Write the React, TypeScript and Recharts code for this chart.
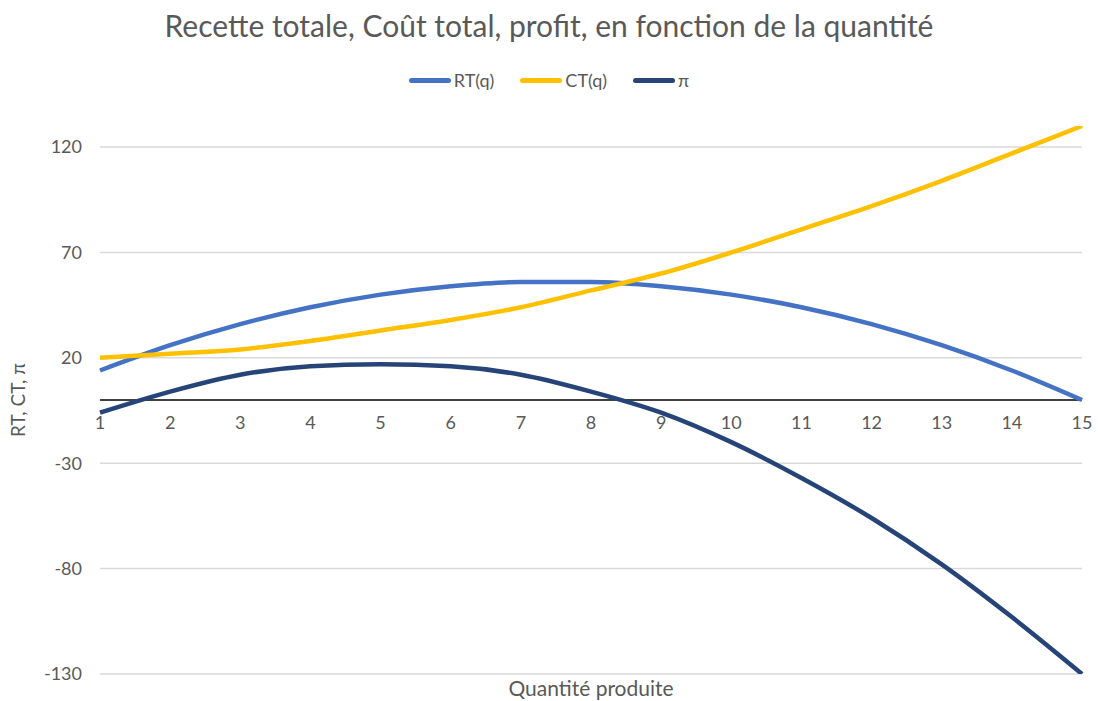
import React from "react";
import {
  LineChart,
  Line,
  XAxis,
  YAxis,
  CartesianGrid,
  ReferenceLine,
} from "recharts";

const quantities = [1, 2, 3, 4, 5, 6, 7, 8, 9, 10, 11, 12, 13, 14, 15];
const recetteTotale = [14, 26, 36, 44, 50, 54, 56, 56, 54, 50, 44, 36, 26, 14, 0];
const coutTotal = [20, 22, 24, 28, 33, 38, 44, 52, 60, 70, 81, 92, 104, 117, 130];
const profit = [-6, 4, 12, 16, 17, 16, 12, 4, -6, -20, -37, -56, -78, -103, -130];
const yTicks = [-130, -80, -30, 20, 70, 120];

const series = [
  { key: "rt", name: "RT(q)", color: "#4472C4" },
  { key: "ct", name: "CT(q)", color: "#FFC000" },
  { key: "pi", name: "π", color: "#264478" },
];

const data = quantities.map((q, i) => ({
  q,
  rt: recetteTotale[i],
  ct: coutTotal[i],
  pi: profit[i],
}));

const CHART_W = 1098;
const CHART_H = 701;
const TOP = 126;
const XAXIS_H = 27;
const PLOT_H = CHART_H - TOP - XAXIS_H;
const FONT = "Lato, 'Open Sans', sans-serif";
const GREY = "#595959";

// category labels sit just under the zero line, like Excel's axis crossing at 0
const ZeroTick = (props: any) => {
  const { x, y, payload } = props;
  return (
    <text
      x={x}
      y={y - PLOT_H / 2 + 8}
      dy="0.71em"
      textAnchor="middle"
      fill={GREY}
      fontSize={18}
      fontFamily={FONT}
    >
      {payload.value}
    </text>
  );
};

const ChartLegend = () => (
  <div
    style={{
      position: "absolute",
      top: 69,
      left: 0,
      width: CHART_W,
      display: "flex",
      justifyContent: "center",
      alignItems: "center",
      gap: 26,
      fontFamily: FONT,
      fontSize: 18,
      color: GREY,
    }}
  >
    {series.map((s) => (
      <div key={s.key} style={{ display: "flex", alignItems: "center" }}>
        <div
          style={{
            width: 42,
            height: 5,
            borderRadius: 3,
            background: s.color,
            marginRight: 3,
          }}
        />
        <span>{s.name}</span>
      </div>
    ))}
  </div>
);

export default function App() {
  return (
    <div
      style={{
        position: "absolute",
        left: 0,
        top: 0,
        width: CHART_W,
        height: CHART_H,
        background: "#fff",
      }}
    >
      <div
        style={{
          position: "absolute",
          top: 7,
          left: 0,
          width: CHART_W,
          textAlign: "center",
          fontFamily: FONT,
          fontSize: 30,
          color: GREY,
        }}
      >
        Recette totale, Coût total, profit, en fonction de la quantité
      </div>
      <ChartLegend />
      <LineChart
        width={CHART_W}
        height={CHART_H}
        data={data}
        margin={{ top: TOP, right: 16, bottom: 0, left: 0 }}
      >
        <CartesianGrid
          vertical={false}
          horizontalValues={yTicks}
          stroke="#d9d9d9"
          strokeWidth={1.5}
        />
        <XAxis
          dataKey="q"
          height={XAXIS_H}
          interval={0}
          axisLine={false}
          tickLine={false}
          tick={<ZeroTick />}
          label={{
            value: "Quantité produite",
            position: "insideBottom",
            offset: 5,
            fill: GREY,
            fontSize: 21,
            fontFamily: FONT,
          }}
        />
        <YAxis
          width={100}
          domain={[-130, 130]}
          ticks={yTicks}
          allowDataOverflow
          axisLine={false}
          tickLine={false}
          tickMargin={12}
          tick={{ fill: GREY, fontSize: 18, fontFamily: FONT }}
          label={{
            value: "RT, CT, π",
            angle: -90,
            position: "center",
            dx: -32,
            fill: GREY,
            fontSize: 19,
            fontFamily: FONT,
          }}
        />
        <ReferenceLine y={0} stroke="#000" strokeWidth={1.5} />
        {series.map((s) => (
          <Line
            key={s.key}
            type="monotone"
            dataKey={s.key}
            name={s.name}
            stroke={s.color}
            strokeWidth={4.5}
            dot={false}
            activeDot={false}
            isAnimationActive={false}
          />
        ))}
      </LineChart>
    </div>
  );
}
